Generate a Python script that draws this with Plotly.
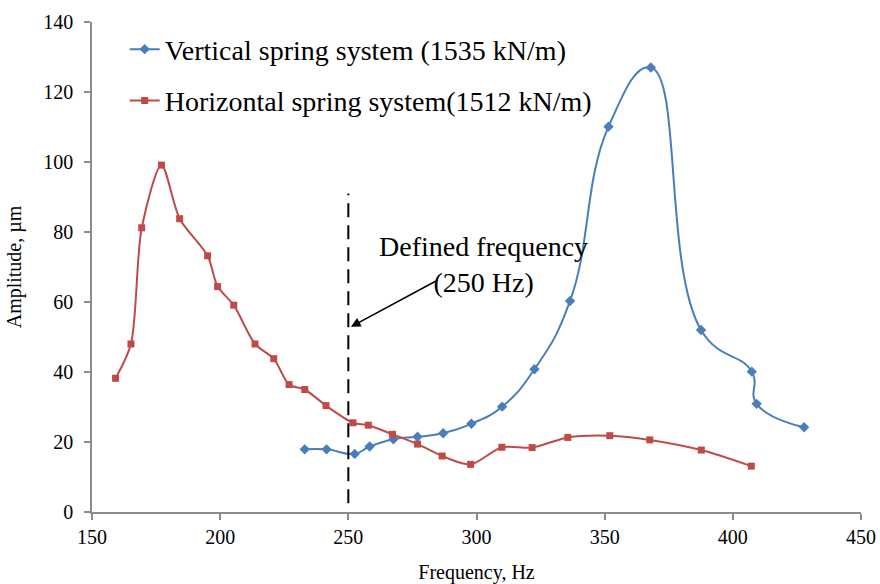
import plotly.graph_objects as go

# Data
vert_freq = [233, 241.5, 252.5, 258.3, 267.6, 277, 287, 298, 310, 322.6, 336.5, 351.5, 368, 387.6, 407.4, 409.3, 427.8]
vert_amp = [17.9, 17.9, 16.6, 18.7, 20.8, 21.5, 22.5, 25.2, 30.1, 40.8, 60.3, 110.1, 127, 52, 40.1, 30.9, 24.2]

horiz_freq = [159.2, 165.2, 169.4, 177.1, 184.2, 195.1, 199, 205.3, 213.6, 220.9, 226.9, 233, 241.3,
              251.8, 257.8, 267.2, 277, 286.6, 297.7, 309.9, 321.7, 335.6, 352, 367.6, 387.7, 407.2]
horiz_amp = [38.2, 48, 81.2, 99.1, 83.8, 73.2, 64.4, 59.1, 48, 43.8, 36.4, 35, 30.4,
             25.5, 24.8, 22.2, 19.4, 16, 13.6, 18.5, 18.4, 21.3, 21.8, 20.6, 17.7, 13.1]

defined_freq = 250
x_ticks = [150, 200, 250, 300, 350, 400, 450]
y_ticks = [0, 20, 40, 60, 80, 100, 120, 140]

FONT = "Liberation Serif, Times New Roman, serif"
BLUE = "#4A7EBB"
RED = "#BE4B48"

fig = go.Figure()
fig.add_trace(go.Scatter(
    x=vert_freq, y=vert_amp, mode="lines+markers",
    name="Vertical spring system (1535 kN/m)",
    line=dict(color=BLUE, width=2, shape="spline", smoothing=1.3),
    marker=dict(symbol="diamond", size=8, color=BLUE),
    legendgroup="a",
))
fig.add_trace(go.Scatter(
    x=horiz_freq, y=horiz_amp, mode="lines+markers",
    name="Horizontal spring system(1512 kN/m)",
    line=dict(color=RED, width=2, shape="spline", smoothing=0.8),
    marker=dict(symbol="square", size=7, color=RED),
    legendgroup="b",
))

# dashed vertical line at defined frequency
fig.add_shape(type="line", xref="x", yref="y", x0=defined_freq, x1=defined_freq, y0=2.5, y1=91,
              line=dict(color="black", width=2, dash="14px,8px"))

# arrow
fig.add_annotation(x=251, y=52.9, ax=285.5, ay=66.5, xref="x", yref="y", axref="x", ayref="y",
                   text="", showarrow=True, arrowhead=2, arrowsize=1.2, arrowwidth=1.6, arrowcolor="black")
# label
fig.add_annotation(x=302.8, y=70.6, xref="x", yref="y", text="Defined frequency<br>(250 Hz)",
                   showarrow=False, font=dict(family=FONT, size=28, color="black"), align="center")

axis_common = dict(
    showgrid=False, zeroline=False, showline=True, linecolor="#8C8C8C", linewidth=1.5,
    ticks="outside", ticklen=6, tickcolor="#8C8C8C", tickwidth=1.5,
    tickfont=dict(family=FONT, size=20, color="black"), automargin=False,
)
fig.update_xaxes(range=[150, 450], tickvals=x_ticks,
                 title=dict(text="Frequency, Hz", font=dict(family=FONT, size=20, color="black"), standoff=20),
                 **axis_common)
fig.update_yaxes(range=[0, 140], tickvals=y_ticks, ticklabelstandoff=7,
                 title=dict(text="Amplitude, µm", font=dict(family=FONT, size=20, color="black"), standoff=16),
                 **axis_common)

fig.update_layout(
    width=880, height=584,
    margin=dict(l=92, r=19, t=22, b=72),
    plot_bgcolor="white", paper_bgcolor="white",
    font=dict(family=FONT, color="black"),
    legend=dict(x=0.0425, y=0.995, xanchor="left", yanchor="top",
                font=dict(family=FONT, size=28, color="black"),
                tracegroupgap=12, traceorder="grouped", bgcolor="rgba(0,0,0,0)"),
)

fig.write_html("out.html")
